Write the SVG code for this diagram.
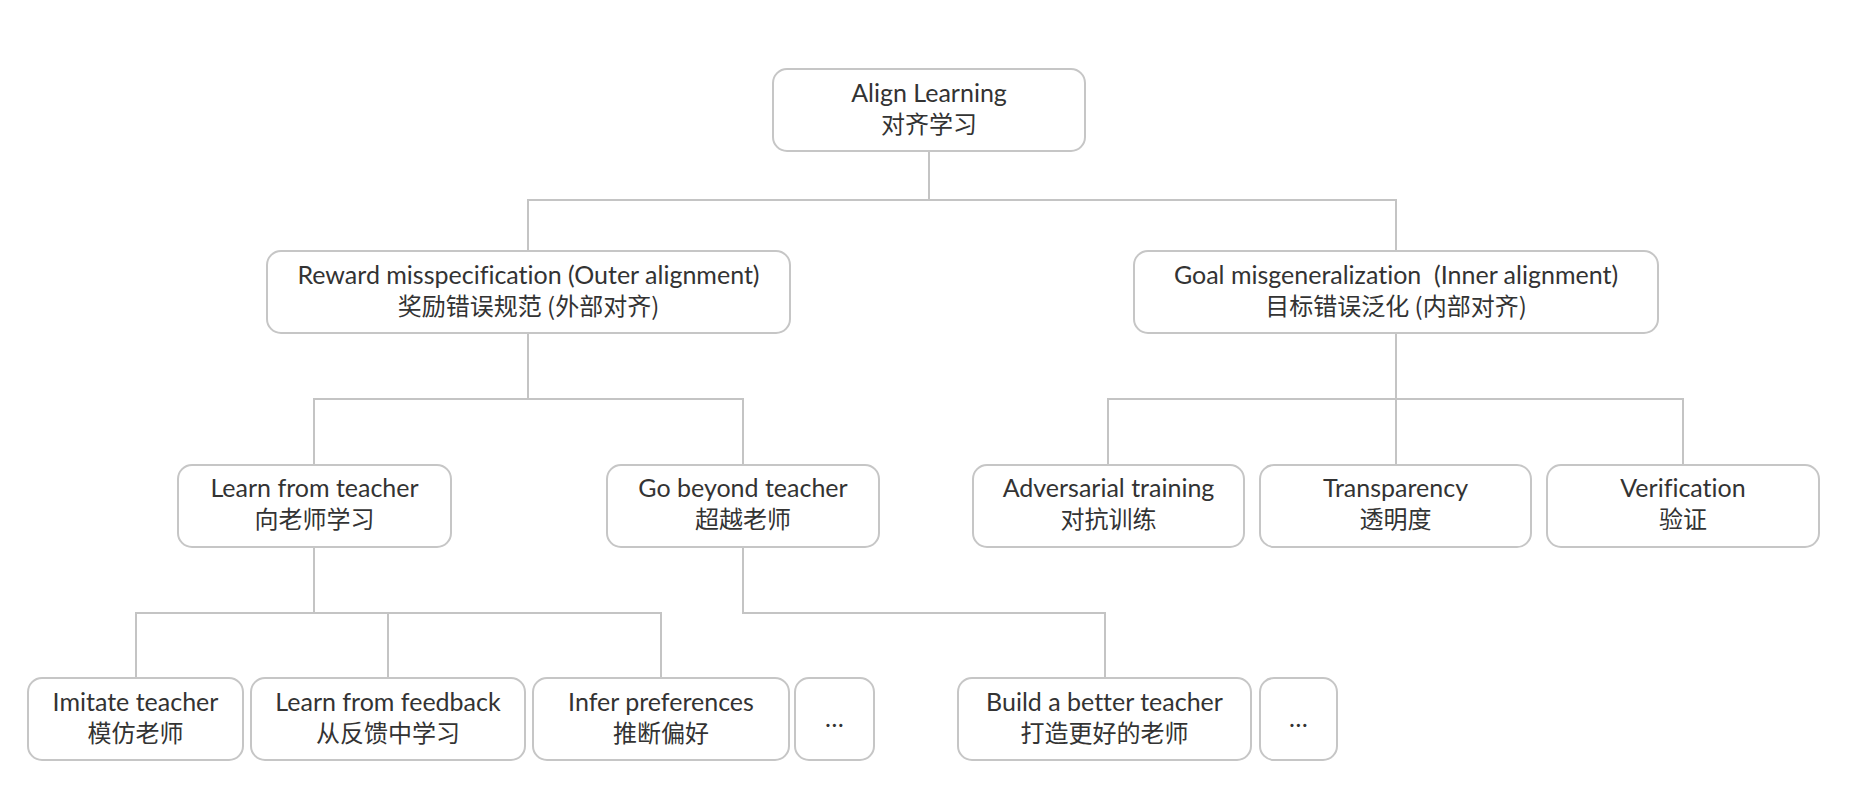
<svg xmlns="http://www.w3.org/2000/svg" width="1860" height="804" viewBox="0 0 1860 804">
<style>
.box{fill:#ffffff;stroke:#c6c6c6;stroke-width:2}
.en{font-family:Lato,"Noto Sans","Noto Sans CJK SC",sans-serif;font-size:25px;fill:#333333;text-anchor:middle;font-variant-ligatures:none}
.zh{font-family:"Noto Sans CJK SC",sans-serif;font-size:24px;fill:#333333;text-anchor:middle}
.con{fill:none;stroke:#c4c4c4;stroke-width:2}
</style>
<rect width="1860" height="804" fill="#ffffff"/>
<g id="connectors">
<path class="con" d="M929 151V200M528 251V200H1396V251"/>
<path class="con" d="M528 333V399M314 465V399H743V465"/>
<path class="con" d="M1396 333V465M1108 465V399H1683V465"/>
<path class="con" d="M314 547V613M136 678V613H661V678M388 613V678"/>
<path class="con" d="M743 547V613H1105V678"/>
</g>
<g id="root"><rect class="box" x="773" y="69" width="312" height="82" rx="14"/><text class="en" x="929" y="102">Align Learning</text><text class="zh" x="929" y="133">对齐学习</text></g>
<g id="reward"><rect class="box" x="267" y="251" width="523" height="82" rx="14"/><text class="en" x="528.5" y="284">Reward misspecification (Outer alignment)</text><text class="zh" x="528.5" y="315">奖励错误规范 (外部对齐)</text></g>
<g id="goal"><rect class="box" x="1134" y="251" width="524" height="82" rx="14"/><text class="en" x="1396" y="284" xml:space="preserve">Goal misgeneralization  (Inner alignment)</text><text class="zh" x="1396" y="315">目标错误泛化 (内部对齐)</text></g>
<g id="learn-teacher"><rect class="box" x="178" y="465" width="273" height="82" rx="14"/><text class="en" x="314.5" y="497">Learn from teacher</text><text class="zh" x="314.5" y="528">向老师学习</text></g>
<g id="beyond-teacher"><rect class="box" x="607" y="465" width="272" height="82" rx="14"/><text class="en" x="743" y="497">Go beyond teacher</text><text class="zh" x="743" y="528">超越老师</text></g>
<g id="adversarial"><rect class="box" x="973" y="465" width="271" height="82" rx="14"/><text class="en" x="1108.5" y="497">Adversarial training</text><text class="zh" x="1108.5" y="528">对抗训练</text></g>
<g id="transparency"><rect class="box" x="1260" y="465" width="271" height="82" rx="14"/><text class="en" x="1395.5" y="497">Transparency</text><text class="zh" x="1395.5" y="528">透明度</text></g>
<g id="verification"><rect class="box" x="1547" y="465" width="272" height="82" rx="14"/><text class="en" x="1683" y="497">Verification</text><text class="zh" x="1683" y="528">验证</text></g>
<g id="imitate"><rect class="box" x="28" y="678" width="215" height="82" rx="14"/><text class="en" x="135.5" y="711">Imitate teacher</text><text class="zh" x="135.5" y="742">模仿老师</text></g>
<g id="feedback"><rect class="box" x="251" y="678" width="274" height="82" rx="14"/><text class="en" x="388" y="711">Learn from feedback</text><text class="zh" x="388" y="742">从反馈中学习</text></g>
<g id="infer"><rect class="box" x="533" y="678" width="256" height="82" rx="14"/><text class="en" x="661" y="711">Infer preferences</text><text class="zh" x="661" y="742">推断偏好</text></g>
<g id="more1"><rect class="box" x="795" y="678" width="79" height="82" rx="14"/><text class="en" x="834.5" y="727">…</text></g>
<g id="build"><rect class="box" x="958" y="678" width="293" height="82" rx="14"/><text class="en" x="1104.5" y="711">Build a better teacher</text><text class="zh" x="1104.5" y="742">打造更好的老师</text></g>
<g id="more2"><rect class="box" x="1260" y="678" width="77" height="82" rx="14"/><text class="en" x="1298.5" y="727">…</text></g>
</svg>
